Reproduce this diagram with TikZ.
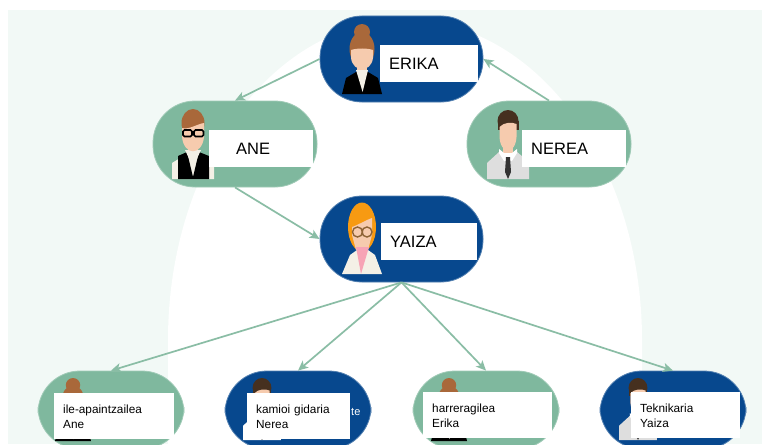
\documentclass[tikz,border=0pt]{standalone}
\usepackage{fontspec}
\setmainfont{Liberation Sans}
\usetikzlibrary{arrows.meta}
\definecolor{mint}{HTML}{F2F9F6}
\definecolor{pillblue}{HTML}{07488E}
\definecolor{pillgreen}{HTML}{7FB89E}
\definecolor{linkgreen}{HTML}{8ABDA5}
\definecolor{skin}{HTML}{F6CBAE}
\definecolor{auburn}{HTML}{A9683A}
\definecolor{darkhair}{HTML}{46301F}
\definecolor{cream}{HTML}{F4F0E6}
\definecolor{shirtgrey}{HTML}{DEDEDE}
\definecolor{orangehair}{HTML}{F79A12}
\definecolor{pinkv}{HTML}{F7A3B5}
\definecolor{glassbrown}{HTML}{8E6436}
\tikzset{
  pill/.style={rounded corners=42pt,minimum height=#1,inner sep=0pt,line width=.8pt},
  bluepill/.style={pill=86pt,fill=pillblue,draw=pillblue!70!white},
  greenpill/.style={pill=86pt,fill=pillgreen,draw=pillgreen!75!white},
  link/.style={draw=linkgreen,line width=1.7pt,-{Stealth[length=10pt,width=9pt,inset=2.5pt]}},
  namebox/.style={fill=white,anchor=base west,inner xsep=9pt,inner ysep=0pt,align=left,
    font=\fontsize{16.5}{20}\selectfont,text height=24pt,text depth=13pt},
  jobbox/.style={fill=white,anchor=base west,inner xsep=9pt,inner ysep=0pt,align=left,
    font=\fontsize{11.8}{15}\selectfont,text height=20pt,text depth=26pt}
}
% figures: origin = top of the head, centred
\newcommand{\figbun}{%
  \fill[auburn] (0,8) circle (8);
  \fill[auburn] (0,25) ellipse [x radius=12.5,y radius=17];
  \fill[skin] (-5,40) rectangle (5,50);
  \fill[skin] (-11,26) .. controls (-5,24) and (5,24) .. (11,26) -- (11,34) .. controls (9,49) and (-9,49) .. (-11,34) -- cycle;
  \fill[black] (-20,70) -- (-16,54) -- (-6,48) -- (6,48) -- (16,54) -- (20,70) -- cycle;
  \fill[cream] (-6,46) -- (6,46) -- (.6,68) -- cycle;
}
\newcommand{\figglasses}{%
  \fill[cream] (-21,70) -- (-21,54) -- (-8,46) -- (8,46) -- (21,54) -- (21,70) -- cycle;
  \fill[black] (-15,70) -- (-15,47) -- (-6,43) -- (0,68) -- (6,43) -- (16,47) -- (16,70) -- cycle;
  \fill[skin] (-5,34) rectangle (5,44);
  \fill[cream] (-8,41) -- (8,41) -- (0,58) -- cycle;
  \fill[auburn] (0,14) ellipse [x radius=11.5,y radius=14];
  \fill[skin] (-11,19) .. controls (-4,21) and (4,15) .. (11,14) -- (11,28) .. controls (9,47) and (-9,47) .. (-11,28) -- cycle;
  \draw[black,line width=1.6pt,rounded corners=1.5pt] (-10,21) rectangle (-1,27.5) (1,21) rectangle (10.5,27.5);
  \draw[black,line width=1.5pt] (-1,23) -- (1,23);
}
\newcommand{\figman}[1]{%
  \fill[#1] (-21,69) -- (-21,53) -- (-9,42) -- (9,42) -- (21,52) -- (21,69) -- cycle;
  \fill[skin] (-5,30) rectangle (5,44);
  \fill[white] (-9,39) -- (-4,43) -- (4,43) -- (9,39) -- (9,43) -- (4,51) -- (-4,51) -- (-9,43) -- cycle;
  \fill[darkhair] (0,11) ellipse [x radius=10.5,y radius=11];
  \fill[darkhair] (-10.5,11) rectangle (10.5,20);
  \fill[skin] (-8.5,17) .. controls (-4,12) and (4,12) .. (8.5,14) -- (8.5,27) .. controls (7.5,45) and (-7.5,45) .. (-8.5,27) -- cycle;
  \fill[black!80] (-2,47) -- (2,47) -- (3,62) -- (0,69) -- (-3,62) -- cycle;
}
\newcommand{\figyaiza}{%
  \fill[orangehair] (0,24) ellipse [x radius=14,y radius=24.5];
  \fill[skin] (-10,24) .. controls (-4,22) and (4,17) .. (10,15) -- (10,32) -- (6,47) -- (-6,47) -- (-10,32) -- cycle;
  \fill[cream] (-20,71) -- (-12,52) -- (-5,47) -- (6,47) -- (13,52) -- (20,71) -- cycle;
  \fill[pinkv] (-6,44) -- (7,44) -- (-1,71) -- cycle;
  \draw[glassbrown,line width=1.4pt] (-4.5,29) circle (5) (5,29) circle (5);
}
\begin{document}
\begin{tikzpicture}[x=1pt,y=-1pt]
\useasboundingbox (0,0) rectangle (762,444);
\clip (0,0) rectangle (762,444);
% background
\fill[white] (0,0) rectangle (762,444);
\fill[mint] (8,10) rectangle (762,444);
\fill[white] (168,444) -- (168,340) arc [start angle=180,end angle=0,x radius=237,y radius=-320] -- (642,444) -- cycle;

% pills
\node[bluepill,minimum width=163pt]  (erika) at (401.5,59) {};
\node[greenpill,minimum width=164pt] (ane)   at (235,144) {};
\node[greenpill,minimum width=164pt] (nerea) at (549,144) {};
\node[bluepill,minimum width=163pt]  (yaiza) at (401.5,239) {};
\node[greenpill,minimum width=146pt,pill=78pt] (ileapa) at (111,410) {};
\node[bluepill,minimum width=146pt,pill=78pt]  (kamioi) at (298,410) {};
\node[greenpill,minimum width=146pt,pill=78pt] (harrer) at (486,410) {};
\node[bluepill,minimum width=146pt,pill=78pt]  (teknik) at (673,410) {};

% connectors
\draw[link] (erika.west) -- (ane.north);
\draw[link] (nerea.north) -- (erika.east);
\draw[link] (ane.south) -- (yaiza.west);
\draw[link] (yaiza.south) -- (ileapa.north);
\draw[link] (yaiza.south) -- (kamioi.north);
\draw[link] (yaiza.south) -- (harrer.north);
\draw[link] (yaiza.south) -- (teknik.north);

% people
\begin{scope}[shift={(362,24)}]\figbun\end{scope}
\begin{scope}[shift={(193,109)}]\figglasses\end{scope}
\begin{scope}[shift={(508,110)}]\figman{shirtgrey}\end{scope}
\begin{scope}[shift={(362,203)}]\figyaiza\end{scope}
\begin{scope}[shift={(73,378)},scale=.9]\figbun\end{scope}
\begin{scope}[shift={(262,378)},scale=.9]\figman{white}\end{scope}
\begin{scope}[shift={(449,378)},scale=.9]\figbun\end{scope}
\begin{scope}[shift={(638,378)},scale=.9]\figman{shirtgrey}\end{scope}

% name boxes
\node[namebox,text width=80pt] (erikalabel) at (380,69) {ERIKA};
\node[namebox,text width=86pt] (anelabel) at (209,154) {\hspace*{18pt}ANE};
\node[namebox,text width=86pt] (nerealabel) at (522,154) {NEREA};
\node[namebox,text width=78pt] (yaizalabel) at (381,247) {YAIZA};

% job boxes
\node[jobbox,text width=102pt] (ileapalabel) at (54,413) {ile-apaintzailea\\Ane};
\node[jobbox,text width=85pt]  (kamioilabel) at (247,413) {kamioi gidaria\\Nerea};
\node[jobbox,text width=111pt] (harrerlabel) at (423,412) {harreragilea\\Erika};
\node[jobbox,text width=91pt]  (teknilabel)  at (631,412) {Teknikaria\\Yaiza};
\node[anchor=base west,inner sep=0pt,text=white,font=\fontsize{11}{13}\selectfont] (stray) at (351,415) {te};
\end{tikzpicture}
\end{document}
